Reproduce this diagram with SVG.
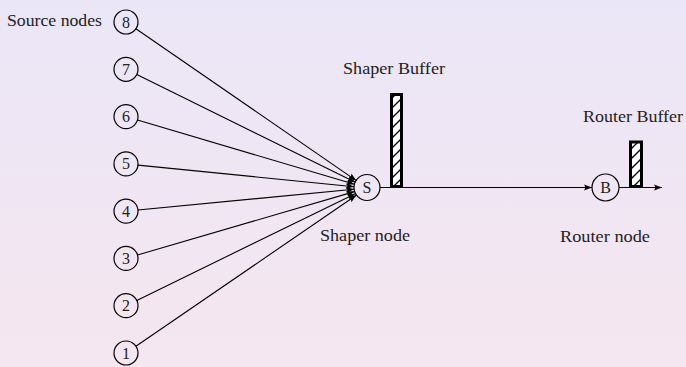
<svg xmlns="http://www.w3.org/2000/svg" width="686" height="367" viewBox="0 0 686 367">
<defs>
<linearGradient id="bg" x1="0" y1="0" x2="0" y2="1">
<stop offset="0" stop-color="#ebe6f7"/>
<stop offset="1" stop-color="#f5e6f0"/>
</linearGradient>
<pattern id="hatch" patternUnits="userSpaceOnUse" width="10" height="10">
<rect width="10" height="10" fill="#fff"/>
<path d="M-2,12 L12,-2 M-2,2 L2,-2 M8,12 L12,8" stroke="#000" stroke-width="1.4"/>
</pattern>
<marker id="arr" markerUnits="userSpaceOnUse" markerWidth="10" markerHeight="8" refX="8" refY="4" orient="auto">
<path d="M0,1 L8,4 L0,7 L1.5,4 z" fill="#000"/>
</marker>
<style>
.nd{fill:none;stroke:#000;stroke-width:1.2}
.t{font-family:"Liberation Serif","Times New Roman",serif;font-size:17px;fill:#222}
.d{font-size:16px}
.c{text-anchor:middle}
.ln{stroke:#000;stroke-width:1.1;fill:none;marker-end:url(#arr)}
.buf{fill:url(#hatch);stroke:#000;stroke-width:3}
</style>
</defs>
<rect width="686" height="367" fill="url(#bg)"/>
<g id="connectors">
<line class="ln" x1="135.9" y1="28.8" x2="356.3" y2="180.6"/>
<line class="ln" x1="136.8" y1="74.6" x2="355.3" y2="182.3"/>
<line class="ln" x1="137.5" y1="120.0" x2="354.5" y2="184.3"/>
<line class="ln" x1="137.9" y1="165.1" x2="354.1" y2="186.7"/>
<line class="ln" x1="137.9" y1="210.0" x2="354.1" y2="189.2"/>
<line class="ln" x1="137.5" y1="255.0" x2="354.5" y2="191.6"/>
<line class="ln" x1="136.8" y1="300.4" x2="355.3" y2="193.7"/>
<line class="ln" x1="135.9" y1="346.2" x2="356.3" y2="195.3"/>
<line class="ln" x1="380" y1="187.5" x2="592" y2="187.5"/>
<line class="ln" x1="619" y1="187.5" x2="662" y2="187.5"/>
</g>
<g id="src8"><circle class="nd" cx="126" cy="22" r="12"/><text class="t c d" x="126" y="27.5">8</text></g>
<g id="src7"><circle class="nd" cx="126" cy="69.3" r="12"/><text class="t c d" x="126" y="74.8">7</text></g>
<g id="src6"><circle class="nd" cx="126" cy="116.6" r="12"/><text class="t c d" x="126" y="122.1">6</text></g>
<g id="src5"><circle class="nd" cx="126" cy="163.9" r="12"/><text class="t c d" x="126" y="169.4">5</text></g>
<g id="src4"><circle class="nd" cx="126" cy="211.1" r="12"/><text class="t c d" x="126" y="216.6">4</text></g>
<g id="src3"><circle class="nd" cx="126" cy="258.4" r="12"/><text class="t c d" x="126" y="263.9">3</text></g>
<g id="src2"><circle class="nd" cx="126" cy="305.7" r="12"/><text class="t c d" x="126" y="311.2">2</text></g>
<g id="src1"><circle class="nd" cx="126" cy="353" r="12"/><text class="t c d" x="126" y="358.5">1</text></g>
<g id="source-label"><text class="t" x="7" y="25.7" textLength="95" lengthAdjust="spacingAndGlyphs">Source nodes</text></g>
<g id="shaper"><circle class="nd" cx="367" cy="187.5" r="13"/><text class="t c d" x="367" y="193">S</text>
<text class="t" x="320" y="240.5" textLength="90" lengthAdjust="spacingAndGlyphs">Shaper node</text></g>
<g id="shaper-buffer"><rect class="buf" x="391.5" y="94.5" width="10" height="92"/>
<text class="t" x="343" y="73.5" textLength="102" lengthAdjust="spacingAndGlyphs">Shaper Buffer</text></g>
<g id="router"><circle class="nd" cx="605.5" cy="187.5" r="13.5"/><text class="t c d" x="605.5" y="193">B</text>
<text class="t" x="560" y="242.3" textLength="90" lengthAdjust="spacingAndGlyphs">Router node</text></g>
<g id="router-buffer"><rect class="buf" x="630.5" y="142" width="11" height="44.5"/>
<text class="t" x="583" y="121.7" textLength="100" lengthAdjust="spacingAndGlyphs">Router Buffer</text></g>
</svg>
